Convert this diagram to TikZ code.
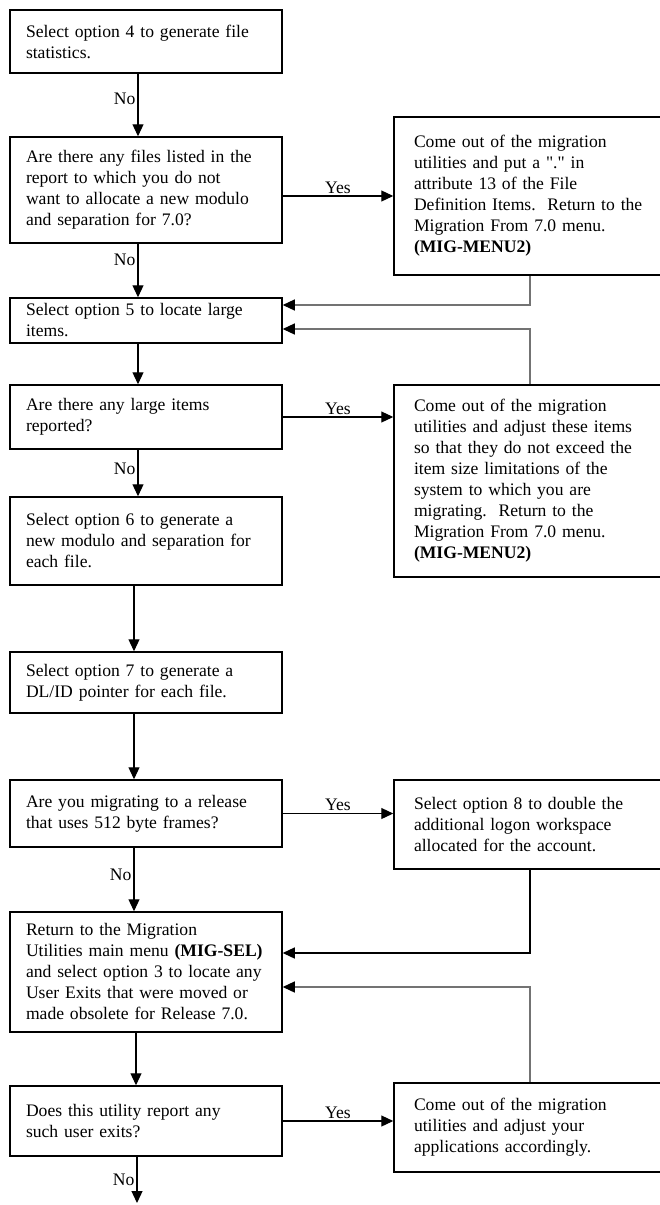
\documentclass[tikz,border=0pt]{standalone}
\usepackage{fontspec}
\setmainfont{Liberation Serif}[Ligatures=TeXOff]
\usepackage{tikz}
\usetikzlibrary{arrows.meta,positioning}
\tikzset{
  box/.style={draw,line width=1.5pt,align=left,text width=240pt,inner xsep=16pt,inner ysep=4pt,font=\fontsize{17.6}{21}\selectfont},
  rbox/.style={box,inner xsep=20pt},
  arr/.style={-{Triangle[length=12pt,width=11pt]},line width=1.2pt},
  back/.style={arr,draw=black!55,-{Triangle[length=12pt,width=11pt,color=black]}},
  lab/.style={font=\fontsize{17.6}{21}\selectfont,inner sep=2pt}
}
\begin{document}
\begin{tikzpicture}[x=1pt,y=-1pt]
\clip (0,0) rectangle (660,1205);
% main column
\node[box,minimum height=63pt] (s1) at (146,41.5) {Select option 4 to generate file\\statistics.};
\node[box,minimum height=106pt] (s2) at (146,190) {Are there any files listed in the\\report to which you do not\\want to allocate a new modulo\\and separation for 7.0?};
\node[box,minimum height=45pt] (s3) at (146,320.5) {Select option 5 to locate large\\items.};
\node[box,minimum height=64pt] (s4) at (146,417) {Are there any large items\\reported?};
\node[box,minimum height=88pt] (s5) at (146,541) {Select option 6 to generate a\\new modulo and separation for\\each file.};
\node[box,minimum height=61pt] (s6) at (146,682.5) {Select option 7 to generate a\\DL/ID pointer for each file.};
\node[box,minimum height=67pt] (s7) at (146,813.5) {Are you migrating to a release\\that uses 512 byte frames?};
\node[box,minimum height=120pt] (s8) at (146,972) {Return to the Migration\\\mbox{Utilities main menu \textbf{(MIG-SEL)}}\\\mbox{and select option 3 to locate any}\\User Exits that were moved or\\made obsolete for Release 7.0.};
\node[box,minimum height=70pt] (s9) at (146,1121) {Does this utility report any\\such user exits?};
\coordinate (out) at (137,1203);
% side column
\node[rbox,minimum height=158pt] (r1) at (534,196) {Come out of the migration\\utilities and put a "." in\\attribute 13 of the File\\Definition Items.\ \ Return to the\\Migration From 7.0 menu.\\\textbf{(MIG-MENU2)}};
\node[rbox,minimum height=192pt] (r2) at (534,481) {Come out of the migration\\utilities and adjust these items\\so that they do not exceed the\\item size limitations of the\\system to which you are\\migrating.\ \ Return to the\\Migration From 7.0 menu.\\\textbf{(MIG-MENU2)}};
\node[rbox,minimum height=89pt] (r3) at (534,824.5) {Select option 8 to double the\\additional logon workspace\\allocated for the account.};
\node[rbox,minimum height=89pt] (r4) at (534,1127.5) {Come out of the migration\\utilities and adjust your\\applications accordingly.};
% down the column
\draw[arr] ([xshift=-8pt]s1.south) -- node[lab,left,pos=0.4]{No} ([xshift=-8pt]s2.north);
\draw[arr] ([xshift=-8pt]s2.south) -- node[lab,left,pos=0.3]{No} ([xshift=-8pt]s3.north);
\draw[arr] ([xshift=-8pt]s3.south) -- ([xshift=-8pt]s4.north);
\draw[arr] ([xshift=-8pt]s4.south) -- node[lab,left,pos=0.4]{No} ([xshift=-8pt]s5.north);
\draw[arr] ([xshift=-12pt]s5.south) -- ([xshift=-12pt]s6.north);
\draw[arr] ([xshift=-12pt]s6.south) -- ([xshift=-12pt]s7.north);
\draw[arr] ([xshift=-12pt]s7.south) -- node[lab,left,pos=0.43]{No} ([xshift=-12pt]s8.north);
\draw[arr] ([xshift=-10pt]s8.south) -- ([xshift=-10pt]s9.north);
\draw[arr] ([xshift=-9pt]s9.south) -- node[lab,left,pos=0.5]{No} (out);
% yes branches
\draw[arr] (s2.east |- r1.west) -- node[lab,above]{Yes} (r1.west);
\draw[arr] (s4.east) -- node[lab,above]{Yes} (r2.west |- s4.east);
\draw[arr] (s7.east) -- node[lab,above]{Yes} (r3.west |- s7.east);
\draw[arr] (s9.east) -- node[lab,above]{Yes} (r4.west |- s9.east);
% back to the column
\draw[back] ([xshift=-4pt]r1.south) |- ([yshift=15.5pt]s3.east);
\draw[back] ([xshift=-4pt]r2.north) |- ([yshift=-8.5pt]s3.east);
\draw[arr] ([xshift=-4pt]r3.south) |- ([yshift=19pt]s8.east);
\draw[back] ([xshift=-4pt]r4.north) |- ([yshift=-15pt]s8.east);
\end{tikzpicture}
\end{document}
